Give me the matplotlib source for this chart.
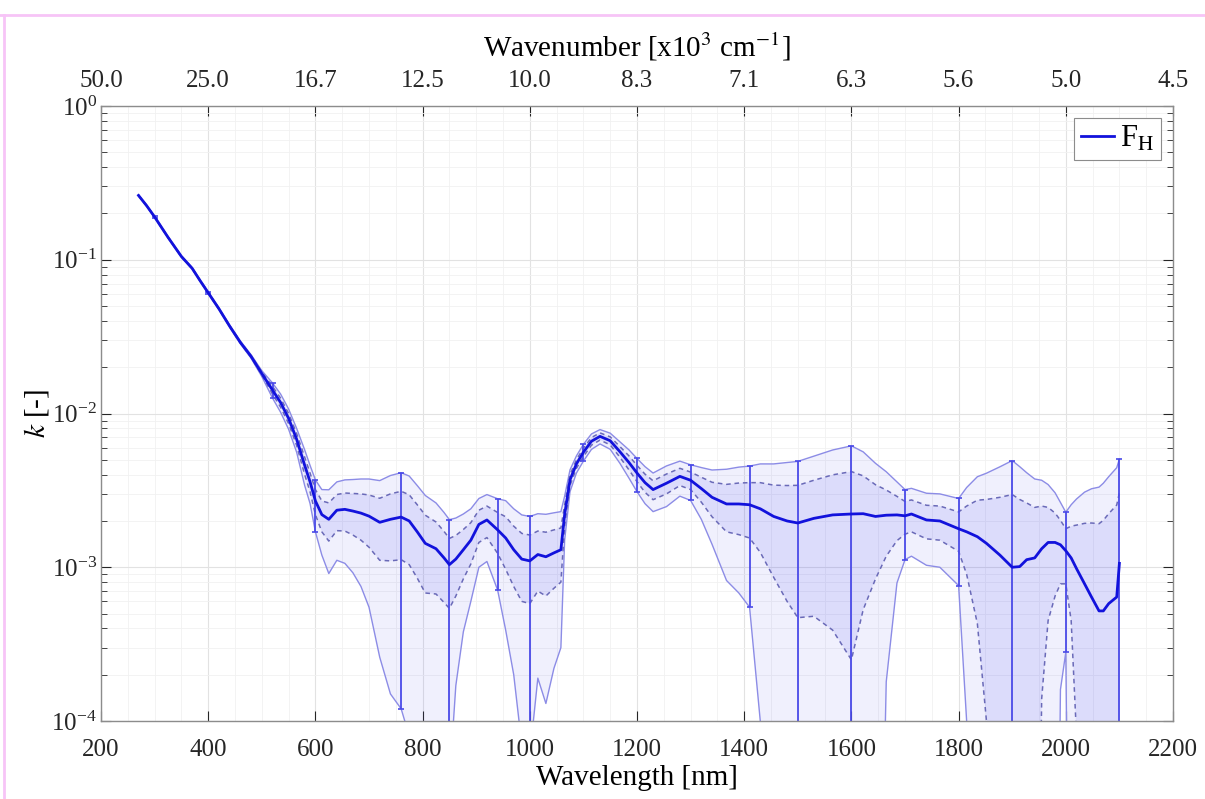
import matplotlib
matplotlib.use('Agg')
import matplotlib.pyplot as plt
from matplotlib.ticker import LogLocator, MultipleLocator, NullFormatter
from matplotlib.lines import Line2D
import numpy as np

plt.rcParams['font.family'] = ['Liberation Serif', 'DejaVu Serif']
plt.rcParams['mathtext.fontset'] = 'stix'

# wavelength [nm], mean k and its standard deviation
wavelength = np.array([
    270, 285, 300, 325, 350, 370, 385, 400, 420, 440, 460, 480, 500, 520,
    535, 550, 565, 580, 590, 600, 612, 625, 640, 655, 670, 685, 700, 720,
    740, 760, 775, 790, 805, 825, 840, 850, 862, 876, 890, 905, 920, 940,
    955, 970, 985, 1000, 1015, 1030, 1045, 1058, 1065, 1075, 1087, 1100,
    1115, 1131, 1150, 1168, 1185, 1200, 1215, 1230, 1255, 1280, 1300, 1320,
    1340, 1367, 1390, 1410, 1430, 1455, 1480, 1500, 1530, 1565, 1600, 1622,
    1645, 1665, 1685, 1700, 1712, 1740, 1765, 1800, 1815, 1835, 1852, 1877,
    1900, 1914, 1927, 1942, 1955, 1967, 1980, 1990, 2000, 2010, 2020, 2035,
    2048, 2062, 2070, 2080, 2095, 2100])
k_mean = np.array([
    0.262, 0.225, 0.190, 0.140, 0.105, 0.088, 0.073, 0.061, 0.048, 0.037,
    0.029, 0.0235, 0.0182, 0.0142, 0.0118, 0.0093, 0.0068, 0.0046, 0.0036,
    0.0027, 0.0022, 0.00205, 0.00235, 0.00238, 0.00232, 0.00225, 0.00215,
    0.00196, 0.00205, 0.00212, 0.00200, 0.00170, 0.00143, 0.00132, 0.00115,
    0.00104, 0.00113, 0.00130, 0.00150, 0.00190, 0.00203, 0.00175, 0.00155,
    0.00130, 0.00113, 0.00110, 0.00121, 0.00117, 0.00124, 0.00130, 0.00220,
    0.00370, 0.00470, 0.00560, 0.00660, 0.00710, 0.00665, 0.00565, 0.00480,
    0.00410, 0.00355, 0.00320, 0.00352, 0.00390, 0.00368, 0.00325, 0.00285,
    0.00258, 0.00258, 0.00255, 0.00240, 0.00214, 0.00200, 0.00194, 0.00208,
    0.00219, 0.00222, 0.00223, 0.00214, 0.00218, 0.00219, 0.00216, 0.00222,
    0.00203, 0.00200, 0.00178, 0.00170, 0.00158, 0.00143, 0.00120, 0.00100,
    0.00101, 0.00112, 0.00115, 0.00132, 0.00145, 0.00145, 0.00140, 0.00128,
    0.00115, 0.00098, 0.00078, 0.00064, 0.00052, 0.00052, 0.00058, 0.00064,
    0.00106])
k_std = np.array([
    0.0010, 0.0010, 0.0010, 0.0008, 0.0006, 0.0005, 0.0004, 0.0004, 0.0003,
    0.0003, 0.0003, 0.0003, 0.0004, 0.0008, 0.0008, 0.0007, 0.0006, 0.0006,
    0.0005, 0.0005, 0.0005, 0.00057, 0.00062, 0.00066, 0.0007, 0.00075,
    0.0008, 0.00085, 0.00095, 0.00100, 0.00096, 0.00085, 0.00075, 0.00065,
    0.00056, 0.00050, 0.00048, 0.00046, 0.00045, 0.00045, 0.00047, 0.00052,
    0.00058, 0.00055, 0.00053, 0.00052, 0.00051, 0.00052, 0.00051, 0.00050,
    0.00035, 0.00030, 0.00030, 0.00035, 0.00038, 0.00038, 0.00040, 0.00045,
    0.00050, 0.00050, 0.00048, 0.00045, 0.00052, 0.00050, 0.00048, 0.00060,
    0.00072, 0.00088, 0.00095, 0.00100, 0.00115, 0.00128, 0.00140, 0.00147,
    0.00160, 0.00180, 0.00197, 0.00170, 0.00130, 0.00100, 0.00070, 0.00052,
    0.00052, 0.00050, 0.00050, 0.00051, 0.00080, 0.00115, 0.00133, 0.00165,
    0.00197, 0.00175, 0.00150, 0.00130, 0.00118, 0.00100, 0.00080, 0.00062,
    0.00050, 0.00070, 0.00090, 0.00115, 0.00130, 0.00140, 0.00150, 0.00165,
    0.00190, 0.00200])
errbar_wl = [300, 400, 520, 600, 760, 850, 940, 1000, 1100, 1200, 1300,
             1410, 1500, 1600, 1700, 1800, 1900, 2000, 2100]
xticks = list(range(200, 2201, 200))

floor = 1e-7  # negative bounds cannot be shown on log axis
up1 = k_mean + k_std
lo1 = np.clip(k_mean - k_std, floor, None)
up2 = k_mean + 2 * k_std
lo2 = np.clip(k_mean - 2 * k_std, floor, None)

fig = plt.figure(figsize=(12.05, 7.99), dpi=100)
ax = fig.add_axes([101 / 1205, 1 - 721 / 799, 1072 / 1205, 615 / 799])

band = (0.25, 0.25, 0.95)
ax.fill_between(wavelength, lo2, up2, color=band, alpha=0.08, lw=0)
ax.fill_between(wavelength, lo1, up1, color=band, alpha=0.11, lw=0)
ax.plot(wavelength, up2, color='#8c8ce6', lw=1.0)
ax.plot(wavelength, lo2, color='#8c8ce6', lw=1.0)
ax.plot(wavelength, up1, color='#6a6ab8', lw=1.1, ls=(0, (3, 2.5)))
ax.plot(wavelength, lo1, color='#6a6ab8', lw=1.1, ls=(0, (3, 2.5)))

sel = np.isin(wavelength, errbar_wl)
em = k_mean[sel]
ax.errorbar(wavelength[sel], em, yerr=[em - lo2[sel], up2[sel] - em],
            fmt='none', ecolor='#4a4ae8', elinewidth=1.3, capsize=2.5, capthick=1.2)

ax.plot(wavelength, k_mean, color='#1212dc', lw=2.0, label='F$_\\mathrm{H}$')

ax.set_yscale('log')
ax.set_ylim(1e-4, 1)
ax.set_xlim(200, 2200)
ax.set_xticks(xticks)
ax.xaxis.set_minor_locator(MultipleLocator(50))
ax.yaxis.set_major_locator(LogLocator(base=10, numticks=10))
ax.yaxis.set_minor_locator(LogLocator(base=10, subs=np.arange(2, 10), numticks=20))
ax.yaxis.set_minor_formatter(NullFormatter())

ax.grid(which='major', color='#e2e2e2', lw=0.8)
ax.grid(which='minor', color='#f1f1f1', lw=0.6)
ax.set_axisbelow(True)

ax.tick_params(which='both', direction='in', top=True, right=True,
               colors='#262626', labelsize=18)
ax.tick_params(which='major', length=7, width=0.8)
ax.tick_params(which='minor', length=4, width=0.6)
ax.tick_params(axis='x', which='minor', length=0)
ax.tick_params(axis='x', pad=13)
ax.tick_params(axis='y', pad=3)
for sp in ax.spines.values():
    sp.set_color('#8c8c8c')
    sp.set_linewidth(1.0)

ax.set_xlabel('Wavelength [nm]', fontsize=21, labelpad=3)
ax.set_ylabel('$k$ [-]', fontsize=21, labelpad=0)

# wavenumber labels, rounded half up as in the source figure
wn_labels = ['%.1f' % (np.floor(1e5 / t + 0.5) / 10) for t in xticks]
sec = ax.secondary_xaxis('top')
sec.set_xticks(xticks)
sec.set_xticklabels(wn_labels)
sec.tick_params(length=0, labelsize=18, colors='#262626', pad=10)
sec.set_xlabel('Wavenumber [x10$^3$ cm$^{-1}$]', fontsize=21, labelpad=10)
sec.spines['top'].set_visible(False)

leg = ax.legend(loc='upper right', fontsize=22, handlelength=1.1,
                handletextpad=0.2, borderpad=0.2, borderaxespad=0.4,
                fancybox=False, framealpha=1)
leg.get_frame().set_edgecolor('#8c8c8c')
leg.get_frame().set_linewidth(0.8)

# pink frame around the picture
fig.add_artist(Line2D([0, 1], [1 - 15 / 799, 1 - 15 / 799], color='#f7c4f7', lw=2))
fig.add_artist(Line2D([4 / 1205, 4 / 1205], [0, 1 - 15 / 799], color='#f7c4f7', lw=2))

plt.savefig('out.png', dpi=100)
